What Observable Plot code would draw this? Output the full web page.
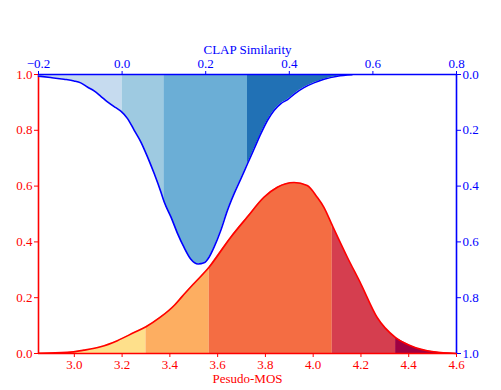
<!DOCTYPE html>
<html><head><meta charset="utf-8">
<script src="https://cdn.jsdelivr.net/npm/d3@7"></script>
<script src="https://cdn.jsdelivr.net/npm/@observablehq/plot@0.6"></script>
<style>
body{margin:0;background:#fff;}
#wrap{position:relative;width:501px;height:390px;background:#fff;}
#wrap svg{position:absolute;left:0;top:0;}
</style></head><body><div id="wrap"></div>
<script>
// Pseudo-MOS density (bottom/left axes)
const mosX = [2.85, 2.97, 3.04, 3.11, 3.18, 3.25, 3.30, 3.36, 3.42, 3.45, 3.50, 3.564, 3.655, 3.724, 3.794, 3.85, 3.92, 3.975, 4.017, 4.045, 4.08, 4.143, 4.20, 4.268, 4.345, 4.408, 4.505, 4.60];
const mosY = [0.001, 0.004, 0.012, 0.024, 0.046, 0.075, 0.096, 0.130, 0.174, 0.203, 0.250, 0.309, 0.417, 0.489, 0.560, 0.596, 0.613, 0.602, 0.560, 0.524, 0.459, 0.345, 0.249, 0.129, 0.057, 0.028, 0.006, 0.000];
const mosBounds = [2.85, 3.30, 3.565, 4.08, 4.345, 4.60];
const mosColors = ["#fee08b", "#fdae61", "#f46d43", "#d53e4f", "#9e0142"];

// CLAP similarity density (top/right axes, right axis reversed)
const clapX = [-0.20, -0.171, -0.139, -0.115, -0.099, -0.083, -0.067, -0.051, -0.035, -0.015, -0.003, 0.013, 0.029, 0.045, 0.061, 0.077, 0.093, 0.101, 0.117, 0.133, 0.148, 0.164, 0.182, 0.196, 0.208, 0.22, 0.236, 0.252, 0.268, 0.284, 0.30, 0.316, 0.332, 0.348, 0.364, 0.38, 0.396, 0.411, 0.435, 0.459, 0.483, 0.515, 0.55];
const clapY = [0.006, 0.011, 0.017, 0.023, 0.030, 0.045, 0.059, 0.078, 0.098, 0.119, 0.131, 0.158, 0.200, 0.242, 0.296, 0.356, 0.422, 0.458, 0.511, 0.571, 0.619, 0.661, 0.679, 0.675, 0.655, 0.619, 0.559, 0.487, 0.427, 0.374, 0.320, 0.266, 0.212, 0.164, 0.128, 0.104, 0.090, 0.071, 0.047, 0.030, 0.017, 0.006, 0.001];
const clapBounds = [-0.20, 0.0, 0.10, 0.30, 0.55];
const clapColors = ["#c6dbef", "#9ecae1", "#6baed6", "#2171b5"];

const mosTicks = [3.0, 3.2, 3.4, 3.6, 3.8, 4.0, 4.2, 4.4, 4.6];
const clapTicks = [-0.2, 0.0, 0.2, 0.4, 0.6, 0.8];
const yTicks = [0.0, 0.2, 0.4, 0.6, 0.8, 1.0];

function interp(xs, ys, x) {
  for (let i = 0; i < xs.length - 1; i++) {
    if (x >= xs[i] && x <= xs[i + 1]) {
      const t = (x - xs[i]) / (xs[i + 1] - xs[i]);
      return ys[i] + t * (ys[i + 1] - ys[i]);
    }
  }
  return x < xs[0] ? ys[0] : ys[ys.length - 1];
}
function bands(xs, ys, bounds, colors) {
  const out = [];
  for (let b = 0; b < bounds.length - 1; b++) {
    const a = bounds[b], e = bounds[b + 1];
    out.push({band: b, x: a, y: interp(xs, ys, a), c: colors[b]});
    xs.forEach((x, i) => { if (x > a && x < e) out.push({band: b, x, y: ys[i], c: colors[b]}); });
    out.push({band: b, x: e, y: interp(xs, ys, e), c: colors[b]});
  }
  return out;
}
const mosPts = mosX.map((x, i) => ({x, y: mosY[i]}));
const clapPts = clapX.map((x, i) => ({x, y: clapY[i]}));
const mosBand = bands(mosX, mosY, mosBounds, mosColors);
const clapBand = bands(clapX, clapY, clapBounds, clapColors);
const fmt = d3.format(".1f");

const common = {width: 501, height: 390, marginLeft: 38, marginRight: 45, marginTop: 74, marginBottom: 37};
const font = "'Liberation Serif', 'Times New Roman', serif";

const p1 = Plot.plot({
  ...common,
  style: {fontFamily: font, fontSize: "13px", color: "red", background: "transparent", overflow: "visible"},
  x: {domain: [2.85, 4.6]},
  y: {domain: [0, 1]},
  color: {type: "identity"},
  marks: [
    Plot.areaY(mosBand, {x: "x", y1: 0, y2: "y", z: "band", fill: "c", curve: "monotone-x"}),
    Plot.line(mosPts, {x: "x", y: "y", stroke: "red", strokeWidth: 1.6, curve: "monotone-x"}),
    Plot.ruleY([0], {stroke: "red", strokeWidth: 1.6}),
    Plot.ruleX([2.85], {stroke: "red", strokeWidth: 1.6}),
    Plot.axisX(mosTicks, {anchor: "bottom", tickFormat: fmt, tickSize: 4, tickPadding: 2, label: null, fontFamily: font}),
    Plot.axisY(yTicks, {anchor: "left", tickFormat: fmt, tickSize: 4, tickPadding: 2, label: null, fontFamily: font}),
    Plot.text(["Pesudo-MOS"], {text: d => d, frameAnchor: "bottom", lineAnchor: "middle", dy: 25, fill: "red", fontFamily: font})
  ]
});

const p2 = Plot.plot({
  ...common,
  style: {fontFamily: font, fontSize: "13px", color: "blue", background: "transparent", overflow: "visible"},
  x: {domain: [-0.2, 0.8]},
  y: {domain: [0, 1], reverse: true},
  color: {type: "identity"},
  marks: [
    Plot.areaY(clapBand, {x: "x", y1: 0, y2: "y", z: "band", fill: "c", curve: "monotone-x"}),
    Plot.line(clapPts, {x: "x", y: "y", stroke: "blue", strokeWidth: 1.6, curve: "monotone-x"}),
    Plot.ruleY([0], {stroke: "blue", strokeWidth: 1.6}),
    Plot.ruleX([0.8], {stroke: "blue", strokeWidth: 1.6}),
    Plot.axisX(clapTicks, {anchor: "top", tickFormat: fmt, tickSize: 4, tickPadding: 3, label: null, fontFamily: font}),
    Plot.axisY(yTicks, {anchor: "right", tickFormat: fmt, tickSize: 4, tickPadding: 2, label: null, fontFamily: font}),
    Plot.text(["CLAP Similarity"], {text: d => d, frameAnchor: "top", lineAnchor: "middle", dy: -24.5, fill: "blue", fontFamily: font})
  ]
});

const wrap = document.getElementById("wrap");
wrap.appendChild(p1);
wrap.appendChild(p2);
</script>
</body></html>
